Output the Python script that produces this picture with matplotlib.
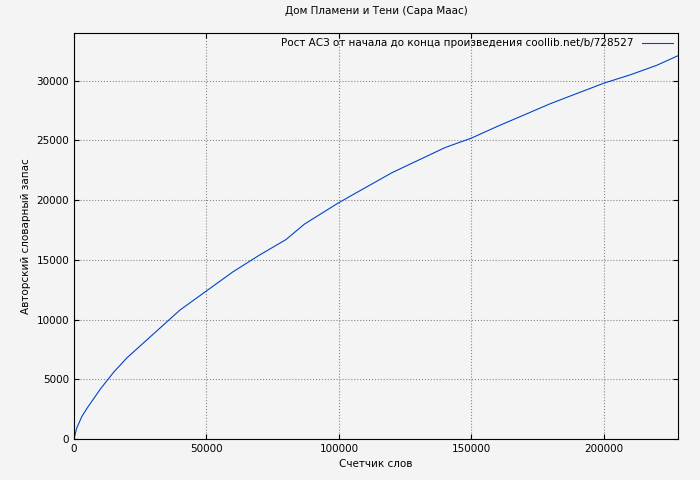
import matplotlib
matplotlib.use("Agg")
import matplotlib.pyplot as plt

words = [0, 1000, 3000, 5000, 10000, 15000, 20000, 30000, 40000, 50000, 60000, 70000, 80000,
         87000, 100000, 120000, 140000, 150000, 160000, 180000, 200000, 210000, 220000, 228000]
vocab = [0, 900, 1900, 2600, 4200, 5600, 6800, 8800, 10800, 12400, 14000, 15400, 16700,
         18000, 19800, 22300, 24400, 25200, 26200, 28100, 29800, 30500, 31300, 32100]

plt.rcParams['font.family'] = ['DejaVu Sans']
fig = plt.figure(figsize=(7, 4.8), dpi=100, facecolor='#f4f4f4')
ax = fig.add_axes([0.1057, 0.0854, 0.8629, 0.8458], facecolor='#f4f4f4')
ax.plot(words, vocab, color='#0044cc', lw=0.8,
        label='Рост АСЗ от начала до конца произведения coollib.net/b/728527')
ax.set_xlim(0, 228000)
ax.set_ylim(0, 34000)
ax.set_xticks([0, 50000, 100000, 150000, 200000])
ax.set_yticks(range(0, 30001, 5000))
ax.tick_params(direction='in', labelsize=7.5, top=True, right=True)
ax.grid(True, linestyle=':', color='#888888', lw=0.8)
ax.set_title('Дом Пламени и Тени (Сара Маас)', fontsize=7.5, pad=14)
ax.set_xlabel('Счетчик слов', fontsize=7.5)
ax.set_ylabel('Авторский словарный запас', fontsize=7.5)
ax.legend(loc='upper right', frameon=False, fontsize=7.5, markerfirst=False,
          handlelength=3, borderaxespad=0.1)
fig.savefig('out.png', dpi=100, facecolor=fig.get_facecolor())
